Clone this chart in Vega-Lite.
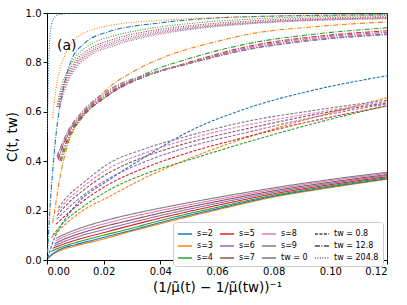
{
  "$schema": "https://vega.github.io/schema/vega-lite/v6.json",
  "width": 340,
  "height": 247,
  "autosize": {"type": "none"},
  "padding": {"left": 47, "top": 13, "right": 20, "bottom": 45},
  "config": {
    "font": "DejaVu Sans",
    "view": {"stroke": "#222", "strokeWidth": 1},
    "axis": {"grid": false, "domainColor": "#000", "tickColor": "#000", "labelColor": "#000", "titleColor": "#000", "labelFontSize": 10, "titleFontSize": 13.5, "titleFontWeight": "normal", "tickSize": 4, "labelPadding": 2}
  },
  "data": {"values": [
    {"s":"s=3","t":"0","x":0.0005,"c":0.007},{"s":"s=3","t":"0","x":0.002,"c":0.022},{"s":"s=3","t":"0","x":0.005,"c":0.04},{"s":"s=3","t":"0","x":0.01,"c":0.057},{"s":"s=3","t":"0","x":0.02,"c":0.085},{"s":"s=3","t":"0","x":0.03,"c":0.117},{"s":"s=3","t":"0","x":0.04,"c":0.147},{"s":"s=3","t":"0","x":0.06,"c":0.203},{"s":"s=3","t":"0","x":0.08,"c":0.255},{"s":"s=3","t":"0","x":0.1,"c":0.293},{"s":"s=3","t":"0","x":0.12,"c":0.327},
    {"s":"s=2","t":"0","x":0.0003,"c":0.008},{"s":"s=2","t":"0","x":0.002,"c":0.025},{"s":"s=2","t":"0","x":0.005,"c":0.045},{"s":"s=2","t":"0","x":0.01,"c":0.062},{"s":"s=2","t":"0","x":0.02,"c":0.091},{"s":"s=2","t":"0","x":0.03,"c":0.121},{"s":"s=2","t":"0","x":0.04,"c":0.152},{"s":"s=2","t":"0","x":0.06,"c":0.207},{"s":"s=2","t":"0","x":0.08,"c":0.258},{"s":"s=2","t":"0","x":0.1,"c":0.296},{"s":"s=2","t":"0","x":0.12,"c":0.329},
    {"s":"s=4","t":"0","x":0.0014,"c":0.035},{"s":"s=4","t":"0","x":0.005,"c":0.052},{"s":"s=4","t":"0","x":0.01,"c":0.07},{"s":"s=4","t":"0","x":0.02,"c":0.1},{"s":"s=4","t":"0","x":0.03,"c":0.129},{"s":"s=4","t":"0","x":0.04,"c":0.16},{"s":"s=4","t":"0","x":0.06,"c":0.213},{"s":"s=4","t":"0","x":0.08,"c":0.262},{"s":"s=4","t":"0","x":0.1,"c":0.3},{"s":"s=4","t":"0","x":0.12,"c":0.333},
    {"s":"s=5","t":"0","x":0.002,"c":0.047},{"s":"s=5","t":"0","x":0.005,"c":0.061},{"s":"s=5","t":"0","x":0.01,"c":0.08},{"s":"s=5","t":"0","x":0.02,"c":0.111},{"s":"s=5","t":"0","x":0.03,"c":0.141},{"s":"s=5","t":"0","x":0.04,"c":0.17},{"s":"s=5","t":"0","x":0.06,"c":0.221},{"s":"s=5","t":"0","x":0.08,"c":0.268},{"s":"s=5","t":"0","x":0.1,"c":0.305},{"s":"s=5","t":"0","x":0.12,"c":0.337},
    {"s":"s=6","t":"0","x":0.0025,"c":0.057},{"s":"s=6","t":"0","x":0.005,"c":0.07},{"s":"s=6","t":"0","x":0.01,"c":0.091},{"s":"s=6","t":"0","x":0.02,"c":0.123},{"s":"s=6","t":"0","x":0.03,"c":0.152},{"s":"s=6","t":"0","x":0.04,"c":0.18},{"s":"s=6","t":"0","x":0.06,"c":0.229},{"s":"s=6","t":"0","x":0.08,"c":0.274},{"s":"s=6","t":"0","x":0.1,"c":0.31},{"s":"s=6","t":"0","x":0.12,"c":0.342},
    {"s":"s=7","t":"0","x":0.0028,"c":0.066},{"s":"s=7","t":"0","x":0.005,"c":0.079},{"s":"s=7","t":"0","x":0.01,"c":0.101},{"s":"s=7","t":"0","x":0.02,"c":0.135},{"s":"s=7","t":"0","x":0.03,"c":0.163},{"s":"s=7","t":"0","x":0.04,"c":0.19},{"s":"s=7","t":"0","x":0.06,"c":0.237},{"s":"s=7","t":"0","x":0.08,"c":0.28},{"s":"s=7","t":"0","x":0.1,"c":0.315},{"s":"s=7","t":"0","x":0.12,"c":0.346},
    {"s":"s=8","t":"0","x":0.003,"c":0.077},{"s":"s=8","t":"0","x":0.005,"c":0.089},{"s":"s=8","t":"0","x":0.01,"c":0.112},{"s":"s=8","t":"0","x":0.02,"c":0.146},{"s":"s=8","t":"0","x":0.03,"c":0.175},{"s":"s=8","t":"0","x":0.04,"c":0.2},{"s":"s=8","t":"0","x":0.06,"c":0.245},{"s":"s=8","t":"0","x":0.08,"c":0.286},{"s":"s=8","t":"0","x":0.1,"c":0.321},{"s":"s=8","t":"0","x":0.12,"c":0.351},
    {"s":"s=9","t":"0","x":0.0032,"c":0.088},{"s":"s=9","t":"0","x":0.005,"c":0.098},{"s":"s=9","t":"0","x":0.01,"c":0.122},{"s":"s=9","t":"0","x":0.02,"c":0.158},{"s":"s=9","t":"0","x":0.03,"c":0.186},{"s":"s=9","t":"0","x":0.04,"c":0.21},{"s":"s=9","t":"0","x":0.06,"c":0.253},{"s":"s=9","t":"0","x":0.08,"c":0.292},{"s":"s=9","t":"0","x":0.1,"c":0.326},{"s":"s=9","t":"0","x":0.12,"c":0.355},

    {"s":"s=2","t":"0.8","x":0.0003,"c":0.01},{"s":"s=2","t":"0.8","x":0.002,"c":0.07},{"s":"s=2","t":"0.8","x":0.005,"c":0.14},{"s":"s=2","t":"0.8","x":0.01,"c":0.22},{"s":"s=2","t":"0.8","x":0.022,"c":0.325},{"s":"s=2","t":"0.8","x":0.035,"c":0.42},{"s":"s=2","t":"0.8","x":0.05,"c":0.52},{"s":"s=2","t":"0.8","x":0.07,"c":0.612},{"s":"s=2","t":"0.8","x":0.095,"c":0.69},{"s":"s=2","t":"0.8","x":0.12,"c":0.746},
    {"s":"s=3","t":"0.8","x":0.0015,"c":0.09},{"s":"s=3","t":"0.8","x":0.007,"c":0.15},{"s":"s=3","t":"0.8","x":0.012,"c":0.195},{"s":"s=3","t":"0.8","x":0.022,"c":0.257},{"s":"s=3","t":"0.8","x":0.035,"c":0.335},{"s":"s=3","t":"0.8","x":0.05,"c":0.41},{"s":"s=3","t":"0.8","x":0.07,"c":0.494},{"s":"s=3","t":"0.8","x":0.095,"c":0.58},{"s":"s=3","t":"0.8","x":0.12,"c":0.657},
    {"s":"s=4","t":"0.8","x":0.002,"c":0.1},{"s":"s=4","t":"0.8","x":0.007,"c":0.165},{"s":"s=4","t":"0.8","x":0.012,"c":0.21},{"s":"s=4","t":"0.8","x":0.022,"c":0.284},{"s":"s=4","t":"0.8","x":0.035,"c":0.35},{"s":"s=4","t":"0.8","x":0.05,"c":0.405},{"s":"s=4","t":"0.8","x":0.07,"c":0.475},{"s":"s=4","t":"0.8","x":0.095,"c":0.555},{"s":"s=4","t":"0.8","x":0.12,"c":0.625},
    {"s":"s=5","t":"0.8","x":0.0032,"c":0.145},{"s":"s=5","t":"0.8","x":0.007,"c":0.185},{"s":"s=5","t":"0.8","x":0.012,"c":0.232},{"s":"s=5","t":"0.8","x":0.022,"c":0.308},{"s":"s=5","t":"0.8","x":0.035,"c":0.375},{"s":"s=5","t":"0.8","x":0.05,"c":0.435},{"s":"s=5","t":"0.8","x":0.07,"c":0.497},{"s":"s=5","t":"0.8","x":0.095,"c":0.566},{"s":"s=5","t":"0.8","x":0.12,"c":0.623},
    {"s":"s=6","t":"0.8","x":0.0034,"c":0.165},{"s":"s=6","t":"0.8","x":0.007,"c":0.205},{"s":"s=6","t":"0.8","x":0.012,"c":0.255},{"s":"s=6","t":"0.8","x":0.022,"c":0.331},{"s":"s=6","t":"0.8","x":0.035,"c":0.4},{"s":"s=6","t":"0.8","x":0.05,"c":0.458},{"s":"s=6","t":"0.8","x":0.07,"c":0.515},{"s":"s=6","t":"0.8","x":0.095,"c":0.58},{"s":"s=6","t":"0.8","x":0.12,"c":0.632},
    {"s":"s=7","t":"0.8","x":0.0036,"c":0.18},{"s":"s=7","t":"0.8","x":0.007,"c":0.225},{"s":"s=7","t":"0.8","x":0.012,"c":0.275},{"s":"s=7","t":"0.8","x":0.022,"c":0.354},{"s":"s=7","t":"0.8","x":0.035,"c":0.42},{"s":"s=7","t":"0.8","x":0.05,"c":0.475},{"s":"s=7","t":"0.8","x":0.07,"c":0.53},{"s":"s=7","t":"0.8","x":0.095,"c":0.59},{"s":"s=7","t":"0.8","x":0.12,"c":0.636},
    {"s":"s=8","t":"0.8","x":0.0038,"c":0.195},{"s":"s=8","t":"0.8","x":0.007,"c":0.24},{"s":"s=8","t":"0.8","x":0.012,"c":0.29},{"s":"s=8","t":"0.8","x":0.022,"c":0.372},{"s":"s=8","t":"0.8","x":0.035,"c":0.435},{"s":"s=8","t":"0.8","x":0.05,"c":0.49},{"s":"s=8","t":"0.8","x":0.07,"c":0.545},{"s":"s=8","t":"0.8","x":0.095,"c":0.597},{"s":"s=8","t":"0.8","x":0.12,"c":0.641},
    {"s":"s=9","t":"0.8","x":0.004,"c":0.21},{"s":"s=9","t":"0.8","x":0.007,"c":0.255},{"s":"s=9","t":"0.8","x":0.012,"c":0.305},{"s":"s=9","t":"0.8","x":0.022,"c":0.392},{"s":"s=9","t":"0.8","x":0.035,"c":0.452},{"s":"s=9","t":"0.8","x":0.05,"c":0.503},{"s":"s=9","t":"0.8","x":0.07,"c":0.56},{"s":"s=9","t":"0.8","x":0.095,"c":0.607},{"s":"s=9","t":"0.8","x":0.12,"c":0.647},

    {"s":"s=2","t":"12.8","x":0.0002,"c":0.03},{"s":"s=2","t":"12.8","x":0.001,"c":0.2},{"s":"s=2","t":"12.8","x":0.002,"c":0.36},{"s":"s=2","t":"12.8","x":0.0033,"c":0.52},{"s":"s=2","t":"12.8","x":0.0059,"c":0.7},{"s":"s=2","t":"12.8","x":0.0083,"c":0.8},{"s":"s=2","t":"12.8","x":0.013,"c":0.875},{"s":"s=2","t":"12.8","x":0.022,"c":0.925},{"s":"s=2","t":"12.8","x":0.04,"c":0.96},{"s":"s=2","t":"12.8","x":0.0715,"c":0.985},{"s":"s=2","t":"12.8","x":0.12,"c":0.993},
    {"s":"s=3","t":"12.8","x":0.002,"c":0.15},{"s":"s=3","t":"12.8","x":0.003,"c":0.22},{"s":"s=3","t":"12.8","x":0.0045,"c":0.33},{"s":"s=3","t":"12.8","x":0.0068,"c":0.446},{"s":"s=3","t":"12.8","x":0.01,"c":0.54},{"s":"s=3","t":"12.8","x":0.015,"c":0.62},{"s":"s=3","t":"12.8","x":0.022,"c":0.7},{"s":"s=3","t":"12.8","x":0.03,"c":0.76},{"s":"s=3","t":"12.8","x":0.04,"c":0.815},{"s":"s=3","t":"12.8","x":0.05,"c":0.855},{"s":"s=3","t":"12.8","x":0.06,"c":0.885},{"s":"s=3","t":"12.8","x":0.0715,"c":0.915},{"s":"s=3","t":"12.8","x":0.095,"c":0.945},{"s":"s=3","t":"12.8","x":0.12,"c":0.964},
    {"s":"s=4","t":"12.8","x":0.005,"c":0.4},{"s":"s=4","t":"12.8","x":0.008,"c":0.5},{"s":"s=4","t":"12.8","x":0.012,"c":0.57},{"s":"s=4","t":"12.8","x":0.022,"c":0.67},{"s":"s=4","t":"12.8","x":0.035,"c":0.755},{"s":"s=4","t":"12.8","x":0.05,"c":0.815},{"s":"s=4","t":"12.8","x":0.0715,"c":0.877},{"s":"s=4","t":"12.8","x":0.095,"c":0.915},{"s":"s=4","t":"12.8","x":0.12,"c":0.94},
    {"s":"s=5","t":"12.8","x":0.0045,"c":0.4},{"s":"s=5","t":"12.8","x":0.008,"c":0.51},{"s":"s=5","t":"12.8","x":0.012,"c":0.575},{"s":"s=5","t":"12.8","x":0.022,"c":0.67},{"s":"s=5","t":"12.8","x":0.035,"c":0.745},{"s":"s=5","t":"12.8","x":0.05,"c":0.8},{"s":"s=5","t":"12.8","x":0.0715,"c":0.866},{"s":"s=5","t":"12.8","x":0.095,"c":0.905},{"s":"s=5","t":"12.8","x":0.12,"c":0.928},
    {"s":"s=6","t":"12.8","x":0.004,"c":0.405},{"s":"s=6","t":"12.8","x":0.008,"c":0.52},{"s":"s=6","t":"12.8","x":0.012,"c":0.58},{"s":"s=6","t":"12.8","x":0.022,"c":0.675},{"s":"s=6","t":"12.8","x":0.035,"c":0.745},{"s":"s=6","t":"12.8","x":0.05,"c":0.797},{"s":"s=6","t":"12.8","x":0.0715,"c":0.861},{"s":"s=6","t":"12.8","x":0.095,"c":0.9},{"s":"s=6","t":"12.8","x":0.12,"c":0.922},
    {"s":"s=7","t":"12.8","x":0.0038,"c":0.41},{"s":"s=7","t":"12.8","x":0.008,"c":0.525},{"s":"s=7","t":"12.8","x":0.012,"c":0.585},{"s":"s=7","t":"12.8","x":0.022,"c":0.68},{"s":"s=7","t":"12.8","x":0.035,"c":0.745},{"s":"s=7","t":"12.8","x":0.05,"c":0.795},{"s":"s=7","t":"12.8","x":0.0715,"c":0.855},{"s":"s=7","t":"12.8","x":0.095,"c":0.893},{"s":"s=7","t":"12.8","x":0.12,"c":0.915},
    {"s":"s=8","t":"12.8","x":0.0036,"c":0.415},{"s":"s=8","t":"12.8","x":0.008,"c":0.53},{"s":"s=8","t":"12.8","x":0.012,"c":0.59},{"s":"s=8","t":"12.8","x":0.022,"c":0.685},{"s":"s=8","t":"12.8","x":0.035,"c":0.748},{"s":"s=8","t":"12.8","x":0.05,"c":0.796},{"s":"s=8","t":"12.8","x":0.0715,"c":0.857},{"s":"s=8","t":"12.8","x":0.095,"c":0.895},{"s":"s=8","t":"12.8","x":0.12,"c":0.918},
    {"s":"s=9","t":"12.8","x":0.0035,"c":0.42},{"s":"s=9","t":"12.8","x":0.008,"c":0.535},{"s":"s=9","t":"12.8","x":0.012,"c":0.595},{"s":"s=9","t":"12.8","x":0.022,"c":0.69},{"s":"s=9","t":"12.8","x":0.035,"c":0.75},{"s":"s=9","t":"12.8","x":0.05,"c":0.795},{"s":"s=9","t":"12.8","x":0.0715,"c":0.853},{"s":"s=9","t":"12.8","x":0.095,"c":0.89},{"s":"s=9","t":"12.8","x":0.12,"c":0.912},

    {"s":"s=2","t":"204.8","x":0.0001,"c":0.52},{"s":"s=2","t":"204.8","x":0.0005,"c":0.75},{"s":"s=2","t":"204.8","x":0.001,"c":0.9},{"s":"s=2","t":"204.8","x":0.002,"c":0.97},{"s":"s=2","t":"204.8","x":0.004,"c":0.993},{"s":"s=2","t":"204.8","x":0.01,"c":1.0},{"s":"s=2","t":"204.8","x":0.12,"c":1.0},
    {"s":"s=3","t":"204.8","x":0.002,"c":0.575},{"s":"s=3","t":"204.8","x":0.003,"c":0.68},{"s":"s=3","t":"204.8","x":0.0045,"c":0.77},{"s":"s=3","t":"204.8","x":0.006,"c":0.82},{"s":"s=3","t":"204.8","x":0.0106,"c":0.9},{"s":"s=3","t":"204.8","x":0.0165,"c":0.934},{"s":"s=3","t":"204.8","x":0.0235,"c":0.952},{"s":"s=3","t":"204.8","x":0.04,"c":0.97},{"s":"s=3","t":"204.8","x":0.0715,"c":0.985},{"s":"s=3","t":"204.8","x":0.12,"c":0.995},
    {"s":"s=4","t":"204.8","x":0.0035,"c":0.62},{"s":"s=4","t":"204.8","x":0.005,"c":0.7},{"s":"s=4","t":"204.8","x":0.007,"c":0.76},{"s":"s=4","t":"204.8","x":0.01,"c":0.82},{"s":"s=4","t":"204.8","x":0.015,"c":0.87},{"s":"s=4","t":"204.8","x":0.0235,"c":0.907},{"s":"s=4","t":"204.8","x":0.035,"c":0.935},{"s":"s=4","t":"204.8","x":0.05,"c":0.957},{"s":"s=4","t":"204.8","x":0.0715,"c":0.975},{"s":"s=4","t":"204.8","x":0.095,"c":0.985},{"s":"s=4","t":"204.8","x":0.12,"c":0.99},
    {"s":"s=5","t":"204.8","x":0.0038,"c":0.62},{"s":"s=5","t":"204.8","x":0.005,"c":0.68},{"s":"s=5","t":"204.8","x":0.007,"c":0.745},{"s":"s=5","t":"204.8","x":0.01,"c":0.805},{"s":"s=5","t":"204.8","x":0.015,"c":0.855},{"s":"s=5","t":"204.8","x":0.0235,"c":0.894},{"s":"s=5","t":"204.8","x":0.035,"c":0.925},{"s":"s=5","t":"204.8","x":0.05,"c":0.948},{"s":"s=5","t":"204.8","x":0.0715,"c":0.968},{"s":"s=5","t":"204.8","x":0.095,"c":0.979},{"s":"s=5","t":"204.8","x":0.12,"c":0.985},
    {"s":"s=6","t":"204.8","x":0.004,"c":0.62},{"s":"s=6","t":"204.8","x":0.005,"c":0.67},{"s":"s=6","t":"204.8","x":0.007,"c":0.735},{"s":"s=6","t":"204.8","x":0.01,"c":0.795},{"s":"s=6","t":"204.8","x":0.015,"c":0.845},{"s":"s=6","t":"204.8","x":0.0235,"c":0.885},{"s":"s=6","t":"204.8","x":0.035,"c":0.918},{"s":"s=6","t":"204.8","x":0.05,"c":0.942},{"s":"s=6","t":"204.8","x":0.0715,"c":0.963},{"s":"s=6","t":"204.8","x":0.095,"c":0.975},{"s":"s=6","t":"204.8","x":0.12,"c":0.982},
    {"s":"s=7","t":"204.8","x":0.0042,"c":0.62},{"s":"s=7","t":"204.8","x":0.005,"c":0.66},{"s":"s=7","t":"204.8","x":0.007,"c":0.725},{"s":"s=7","t":"204.8","x":0.01,"c":0.787},{"s":"s=7","t":"204.8","x":0.015,"c":0.838},{"s":"s=7","t":"204.8","x":0.0235,"c":0.878},{"s":"s=7","t":"204.8","x":0.035,"c":0.912},{"s":"s=7","t":"204.8","x":0.05,"c":0.938},{"s":"s=7","t":"204.8","x":0.0715,"c":0.96},{"s":"s=7","t":"204.8","x":0.095,"c":0.973},{"s":"s=7","t":"204.8","x":0.12,"c":0.98},
    {"s":"s=8","t":"204.8","x":0.0044,"c":0.62},{"s":"s=8","t":"204.8","x":0.005,"c":0.65},{"s":"s=8","t":"204.8","x":0.007,"c":0.718},{"s":"s=8","t":"204.8","x":0.01,"c":0.78},{"s":"s=8","t":"204.8","x":0.015,"c":0.832},{"s":"s=8","t":"204.8","x":0.0235,"c":0.872},{"s":"s=8","t":"204.8","x":0.035,"c":0.907},{"s":"s=8","t":"204.8","x":0.05,"c":0.935},{"s":"s=8","t":"204.8","x":0.0715,"c":0.958},{"s":"s=8","t":"204.8","x":0.095,"c":0.971},{"s":"s=8","t":"204.8","x":0.12,"c":0.978},
    {"s":"s=9","t":"204.8","x":0.0046,"c":0.62},{"s":"s=9","t":"204.8","x":0.005,"c":0.64},{"s":"s=9","t":"204.8","x":0.007,"c":0.71},{"s":"s=9","t":"204.8","x":0.01,"c":0.773},{"s":"s=9","t":"204.8","x":0.015,"c":0.826},{"s":"s=9","t":"204.8","x":0.0235,"c":0.867},{"s":"s=9","t":"204.8","x":0.035,"c":0.903},{"s":"s=9","t":"204.8","x":0.05,"c":0.932},{"s":"s=9","t":"204.8","x":0.0715,"c":0.956},{"s":"s=9","t":"204.8","x":0.095,"c":0.97},{"s":"s=9","t":"204.8","x":0.12,"c":0.976}
  ]},
  "layer": [
    {
      "mark": {"type": "line", "strokeWidth": 1.1, "interpolate": "monotone", "clip": true},
      "encoding": {
        "x": {"field": "x", "type": "quantitative", "scale": {"domain": [0, 0.12], "nice": false, "zero": false},
          "axis": {"title": "(1/μ̃(t) − 1/μ̃(tw))⁻¹", "values": [0, 0.02, 0.04, 0.06, 0.08, 0.1, 0.12], "format": ".2f", "titlePadding": 4}},
        "y": {"field": "c", "type": "quantitative", "scale": {"domain": [0, 1], "nice": false},
          "axis": {"title": "C(t, tw)", "values": [0, 0.2, 0.4, 0.6, 0.8, 1.0], "format": ".1f", "titlePadding": 6}},
        "color": {"field": "s", "type": "nominal",
          "scale": {
            "domain": ["s=2", "s=3", "s=4", "s=5", "s=6", "s=7", "s=8", "s=9", "tw = 0", "tw = 0.8", "tw = 12.8", "tw = 204.8"],
            "range": ["#1f77b4", "#ff7f0e", "#2ca02c", "#d62728", "#9467bd", "#8c564b", "#e377c2", "#7f7f7f", "#777777", "#444444", "#444444", "#666666"]
          },
          "legend": {
            "title": null, "orient": "none", "legendX": 126, "legendY": 209, "columns": 4,
            "symbolType": "stroke", "symbolSize": 200, "symbolStrokeWidth": 1.4,
            "labelFontSize": 8, "labelOffset": 4, "rowPadding": -7, "columnPadding": 4,
            "padding": 4, "fillColor": "white", "strokeColor": "#cccccc", "cornerRadius": 3, "labelLimit": 0,
            "encoding": {"symbols": {"strokeDash": {"value": {"expr": "datum.label == 'tw = 0.8' ? [3,1.5] : datum.label == 'tw = 12.8' ? [5,1.5,1,1.5] : datum.label == 'tw = 204.8' ? [1,1.5] : [1,0]"}}}}
          }
        },
        "strokeDash": {"field": "t", "type": "nominal",
          "scale": {"domain": ["0", "0.8", "12.8", "204.8"], "range": [[1, 0], [3, 1.5], [5, 1.5, 1, 1.5], [1, 1.5]]},
          "legend": null}
      }
    },
    {
      "data": {"values": [{"label": "(a)"}]},
      "mark": {"type": "text", "fontSize": 14, "align": "left", "baseline": "middle", "fill": "#000", "fontWeight": "normal"},
      "encoding": {"text": {"field": "label"}, "x": {"datum": 0.0035}, "y": {"datum": 0.868}}
    }
  ]
}
